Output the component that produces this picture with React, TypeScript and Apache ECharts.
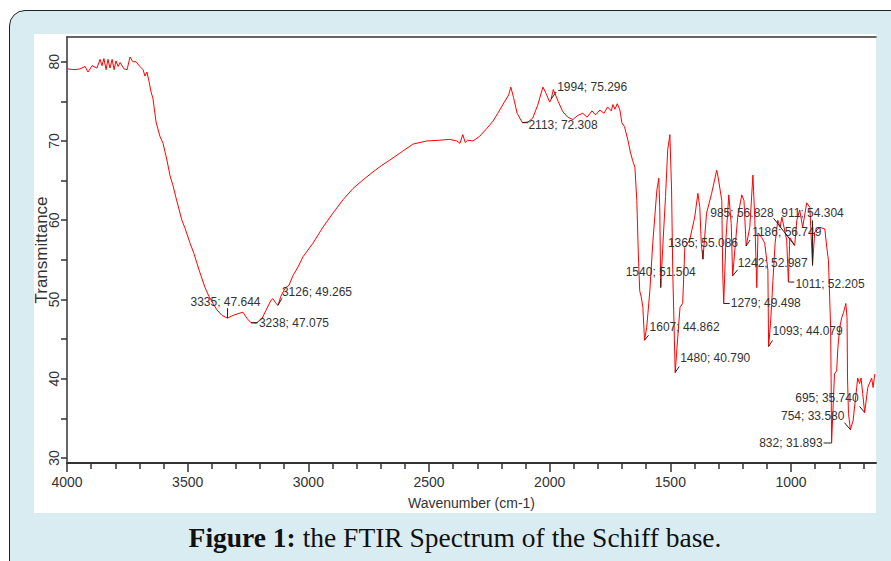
import React, { useEffect, useRef } from "react";
import * as echarts from "echarts";

// FTIR spectrum (wavenumber in cm-1, transmittance in %)
const wavenumbers = [
  4000, 3967, 3946, 3925, 3913, 3896, 3876, 3863, 3855, 3847, 3838, 3830, 3822, 3813, 3805, 3797, 3788, 3780,
  3764, 3751, 3739, 3727, 3714, 3698, 3685, 3677, 3669, 3660, 3652, 3644, 3631, 3615, 3602, 3586, 3573, 3561,
  3549, 3524, 3511, 3490, 3474, 3462, 3445, 3428, 3412, 3395, 3379, 3358, 3335, 3312, 3292, 3271, 3254, 3238,
  3217, 3192, 3176, 3155, 3147, 3134, 3126, 3114, 3097, 3080, 3064, 3043, 3022, 2981, 2940, 2898, 2856, 2815,
  2773, 2732, 2697, 2662, 2610, 2567, 2510, 2455, 2414, 2385, 2372, 2360, 2350, 2340, 2318, 2290, 2260, 2235,
  2215, 2190, 2170, 2161, 2150, 2135, 2113, 2090, 2070, 2050, 2028, 2015, 2000, 1994, 1985, 1965, 1946, 1925,
  1904, 1885, 1863, 1845, 1825, 1810, 1792, 1775, 1760, 1745, 1738, 1730, 1720, 1709, 1701, 1690, 1676, 1665,
  1656, 1647, 1639, 1633, 1627, 1620, 1614, 1607, 1598, 1585, 1573, 1556, 1548, 1544, 1540, 1530, 1520, 1511,
  1502, 1495, 1490, 1480, 1470, 1460, 1449, 1440, 1420, 1399, 1386, 1378, 1372, 1365, 1350, 1329, 1308, 1302,
  1287, 1283, 1279, 1270, 1258, 1248, 1242, 1221, 1204, 1195, 1186, 1171, 1158, 1150, 1142, 1137, 1121, 1109,
  1096, 1093, 1085, 1075, 1066, 1055, 1045, 1038, 1018, 1011, 1005, 985, 976, 964, 952, 935, 922, 911, 902, 881,
  860, 852, 845, 836, 834, 832, 820, 811, 806, 798, 790, 782, 773, 768, 766, 762, 754, 743, 728, 724, 716, 710,
  703, 695, 682, 666, 660, 653,
];
const transmittance = [
  79.1, 79.0, 79.1, 79.4, 78.7, 79.5, 79.2, 80.3, 79.5, 80.4, 79.0, 80.3, 79.2, 80.3, 79.0, 80.1, 79.4, 79.9,
  79.1, 79.0, 80.6, 80.0, 80.0, 79.4, 79.0, 78.2, 78.7, 77.5, 76.2, 75.4, 72.4, 70.6, 69.7, 67.6, 65.6, 64.4,
  62.9, 60.0, 59.0, 57.1, 55.8, 54.6, 53.0, 51.5, 50.4, 49.5, 48.7, 48.0, 47.644, 48.0, 48.2, 48.4, 47.6, 47.075,
  47.0, 47.6, 48.6, 49.9, 50.1, 49.5, 49.265, 50.4, 51.4, 51.8, 53.0, 54.1, 55.4, 57.1, 59.1, 60.9, 62.6, 64.0,
  65.1, 66.1, 66.9, 67.6, 68.7, 69.6, 70.0, 70.1, 70.2, 70.0, 69.7, 70.8, 69.8, 70.1, 70.0, 70.6, 71.6, 72.5,
  73.5, 74.8, 75.8, 76.8, 75.5, 73.5, 72.308, 72.4, 72.9, 74.5, 76.8, 76.0, 74.9, 75.296, 76.5, 75.0, 73.7, 73.0,
  72.7, 73.2, 73.5, 73.0, 73.8, 73.3, 73.9, 73.5, 74.3, 73.8, 74.6, 74.0, 74.7, 73.9, 72.3, 71.8, 70.1, 68.5,
  67.5, 66.7, 62.5, 56.0, 51.1, 50.2, 49.0, 44.862, 46.5, 51.1, 57.1, 63.8, 65.3, 61.6, 51.504, 57.5, 63.0, 68.9,
  70.8, 63.8, 53.3, 40.79, 45.0, 49.0, 49.5, 56.6, 57.5, 60.4, 63.4, 61.6, 57.1, 55.086, 60.9, 63.4, 66.3, 65.4,
  62.5, 53.3, 49.498, 57.5, 63.2, 59.6, 52.987, 60.4, 63.2, 62.5, 56.749, 59.1, 65.7, 60.0, 51.5, 58.4, 57.8, 57.1,
  53.7, 44.079, 47.0, 52.4, 57.1, 60.0, 59.1, 60.4, 57.5, 52.205, 57.8, 56.828, 60.0, 61.3, 59.1, 62.2, 61.6, 54.304, 58.5, 59.1,
  58.9, 56.6, 54.9, 46.5, 40.0, 31.893, 40.6, 41.0, 43.9, 46.5, 47.7, 48.4, 49.5, 47.7, 40.1, 35.6, 33.58, 34.7, 38.9, 40.1, 39.4, 40.1,
  38.1, 35.74, 38.9, 40.1, 38.9, 40.6,
];

// Picked peaks
const peakWavenumbers = [3335, 3238, 3126, 2113, 1994, 1540, 1607, 1480, 1365, 1279, 1242, 1186, 1093, 1011, 985, 911, 832, 754, 695];
const peakValues = [47.644, 47.075, 49.265, 72.308, 75.296, 51.504, 44.862, 40.79, 55.086, 49.498, 52.987, 56.749, 44.079, 52.205, 56.828, 54.304, 31.893, 33.58, 35.74];

const xTicks = [4000, 3500, 3000, 2500, 2000, 1500, 1000];
const yTicks = [30, 40, 50, 60, 70, 80];

// Label layout (pixels, relative to the peak): leader end dx, dy; text dx, dy; text alignment
const peakLabelLayout: [number, number, number, number, string][] = [
  [0, -10, -2, -16, "center"],
  [7, 0, 8, 0, "left"],
  [4, -7, 4, -13, "left"],
  [6, 0, 6, 2, "left"],
  [5, -7, 6, -12, "left"],
  [0, -9, 0, -16, "center"],
  [4, -5, 5, -13, "left"],
  [4, -6, 5, -14, "left"],
  [0, -9, 0, -16, "center"],
  [6, 0, 7, 0, "left"],
  [5, -6, 5, -13, "left"],
  [4, -6, 6, -14, "left"],
  [4, -6, 4, -15, "left"],
  [6, 0, 7, 2, "left"],
  [-21, -27, -21, -32, "right"],
  [0, -45, 0, -52, "center"],
  [-8, 0, -9, 0, "right"],
  [-6, -7, -6, -14, "right"],
  [-5, -6, -6, -15, "right"],
];

const SANS = "'Liberation Sans', Arial, sans-serif";
const SERIF = "'Liberation Serif', 'DejaVu Serif', serif";
const AXIS = "#333";

export default function App() {
  const ref = useRef<HTMLDivElement>(null);
  useEffect(() => {
    if (!ref.current) return;
    const chart = echarts.init(ref.current, null, { renderer: "svg" });
    const spectrum = wavenumbers.map((w, i) => [w, transmittance[i]]);
    const peaks = peakWavenumbers.map((w, i) => [w, peakValues[i]]);
    chart.setOption({
      animation: false,
      backgroundColor: "transparent",
      grid: { left: 67, top: 37, right: 15, bottom: 98 },
      xAxis: [
        {
          type: "value",
          min: 648,
          max: 4000,
          inverse: true,
          splitNumber: 5,
          name: "Wavenumber (cm-1)",
          nameLocation: "middle",
          nameGap: 33,
          nameMoveOverlap: false,
          nameTextStyle: { fontSize: 14, color: AXIS, fontFamily: SANS },
          axisLine: { show: true, onZero: false, lineStyle: { color: AXIS, width: 2 } },
          axisTick: { show: true, length: 9, customValues: xTicks, lineStyle: { color: AXIS, width: 1.5 } },
          minorTick: { show: true, splitNumber: 5, length: 6, lineStyle: { color: AXIS, width: 1.5 } },
          axisLabel: {
            customValues: xTicks,
            fontSize: 14,
            color: AXIS,
            margin: 12,
            fontFamily: SANS,
            formatter: (v: number) => String(v),
          },
          splitLine: { show: false },
          minorSplitLine: { show: false },
        },
        {
          type: "value",
          position: "top",
          min: 648,
          max: 4000,
          inverse: true,
          axisLine: { show: true, onZero: false, lineStyle: { color: AXIS, width: 1.5 } },
          axisTick: { show: false },
          axisLabel: { show: false },
          splitLine: { show: false },
        },
      ],
      yAxis: {
        type: "value",
        min: 29.37,
        max: 83.12,
        splitNumber: 5,
        name: "Transmittance",
        nameLocation: "middle",
        nameGap: 17,
        nameMoveOverlap: false,
        nameRotate: 90,
        nameTextStyle: { fontSize: 17, color: AXIS, fontFamily: SANS },
        axisLine: { show: true, onZero: false, lineStyle: { color: AXIS, width: 1.5 } },
        axisTick: { show: true, length: 6, customValues: yTicks, lineStyle: { color: AXIS, width: 1.5 } },
        minorTick: { show: true, splitNumber: 2, length: 6, lineStyle: { color: AXIS, width: 1.5 } },
        axisLabel: {
          customValues: yTicks,
          rotate: 90,
          fontSize: 14,
          margin: 6,
          color: AXIS,
          fontFamily: SANS,
          formatter: (v: number) => String(v),
        },
        splitLine: { show: false },
      },
      series: [
        {
          type: "line",
          data: spectrum,
          showSymbol: false,
          symbol: "none",
          lineStyle: { color: "#ff0000", width: 1 },
          silent: true,
          z: 2,
        },
        {
          type: "custom",
          data: peaks,
          silent: true,
          clip: false,
          z: 3,
          renderItem: (params: any, api: any) => {
            const i = params.dataIndex;
            const p = api.coord([api.value(0), api.value(1)]);
            const L = peakLabelLayout[i];
            return {
              type: "group",
              children: [
                {
                  type: "line",
                  shape: { x1: p[0], y1: p[1], x2: p[0] + L[0], y2: p[1] + L[1] },
                  style: { stroke: "#222", lineWidth: 1 },
                },
                {
                  type: "text",
                  x: p[0] + L[2],
                  y: p[1] + L[3],
                  style: {
                    text: `${peakWavenumbers[i]}; ${peakValues[i].toFixed(3)}`,
                    fill: "#333",
                    fontSize: 12,
                    fontFamily: SANS,
                    align: L[4],
                    verticalAlign: "middle",
                  },
                },
              ],
            };
          },
        },
      ],
      graphic: [
        {
          type: "text",
          x: 455,
          y: 537,
          style: {
            text: "{b|Figure 1:}{n| the FTIR Spectrum of the Schiff base.}",
            align: "center",
            verticalAlign: "middle",
            fill: "#111",
            rich: {
              b: { fontSize: 27.5, fontWeight: "bold", fontFamily: SERIF, fill: "#111" },
              n: { fontSize: 27.5, fontFamily: SERIF, fill: "#111" },
            },
          },
        },
      ],
    });
    return () => chart.dispose();
  }, []);

  return (
    <div style={{ position: "absolute", left: 0, top: 0, width: 891, height: 561, overflow: "hidden", background: "#fff" }}>
      <div
        style={{
          position: "absolute",
          left: 9,
          top: 10,
          width: 900,
          height: 570,
          background: "#d9ecf2",
          border: "1.5px solid #222",
          borderRadius: 16,
          boxSizing: "border-box",
        }}
      />
      <div style={{ position: "absolute", left: 34, top: 34, width: 842, height: 479, background: "#fff" }} />
      <div ref={ref} style={{ position: "absolute", left: 0, top: 0, width: 891, height: 561 }} />
    </div>
  );
}
